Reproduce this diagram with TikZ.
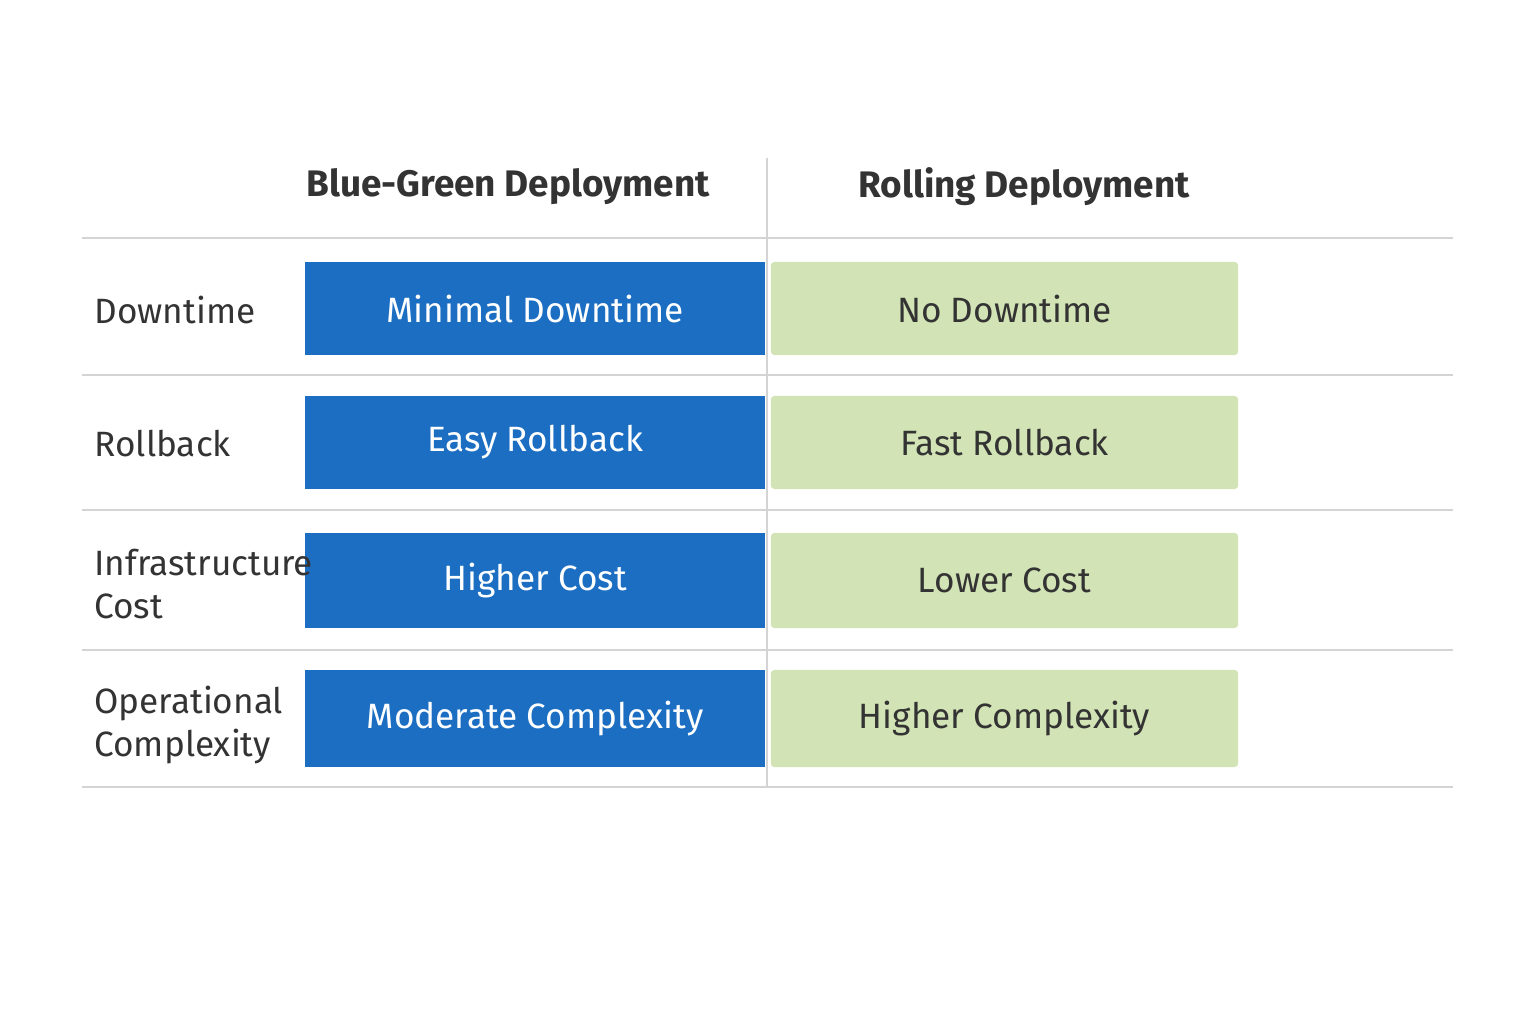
\documentclass[tikz,border=0pt]{standalone}
\usepackage{fontspec}
\setmainfont{Fira Sans}
\usetikzlibrary{positioning}
\definecolor{bgblue}{HTML}{1B6EC2}
\definecolor{bggreen}{HTML}{D2E3B5}
\definecolor{txt}{HTML}{333333}
\definecolor{rule}{HTML}{D4D4D4}
\begin{document}
\begin{tikzpicture}[x=0.01cm,y=-0.01cm,
  blue cell/.style={fill=bgblue,text=white,minimum width=4.6cm,minimum height=#1,inner sep=0pt,font=\fontsize{10}{12}\selectfont},
  green cell/.style={fill=bggreen,text=txt,rounded corners=1pt,minimum width=4.67cm,minimum height=#1,inner sep=0pt,font=\fontsize{10}{12}\selectfont},
  row label/.style={anchor=west,text=txt,align=left,font=\fontsize{10}{12}\selectfont},
  head/.style={text=txt,font=\fontsize{10.5}{12}\selectfont\bfseries},
  sep/.style={rule,line width=0.6pt}]
\useasboundingbox[fill=white] (0,0) rectangle (1536,1024);
\node[head] (h1) at (508,187) {Blue-Green Deployment};
\node[head] (h2) at (1024,187) {Rolling Deployment};
\foreach \y in {238,375,510,650,787}
  \draw[sep] (82,\y) -- (1453,\y);
\draw[sep] (767,158) -- (767,787);
% rows
\node[blue cell=0.93cm] (b1) at (535,308.5) {Minimal Downtime};
\node[green cell=0.93cm] (g1) at (1004.5,308.5) {No Downtime};
\node[row label] (l1) at (82,310) {Downtime};
\node[blue cell=0.93cm] (b2) at (535,442.5) {Easy Rollback};
\node[green cell=0.93cm] (g2) at (1004.5,442.5) {Fast Rollback};
\node[row label] (l2) at (82,444) {Rollback};
\node[blue cell=0.95cm] (b3) at (535,580.5) {Higher Cost};
\node[green cell=0.95cm] (g3) at (1004.5,580.5) {Lower Cost};
\node[row label] (l3) at (82,584) {Infrastructure\\Cost};
\node[blue cell=0.97cm] (b4) at (535,718.5) {Moderate Complexity};
\node[green cell=0.97cm] (g4) at (1004.5,718.5) {Higher Complexity};
\node[row label] (l4) at (82,725) {Operational\\Complexity};
\end{tikzpicture}
\end{document}
